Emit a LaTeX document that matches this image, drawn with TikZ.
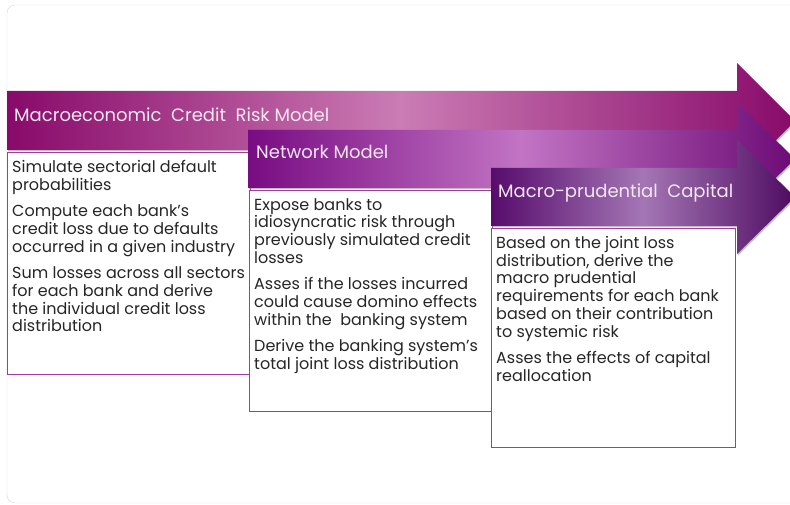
\documentclass[tikz,border=0pt]{standalone}
\usepackage{fontspec}
\setmainfont{Poppins}
\newfontfamily\bodyfont{Poppins}
\usetikzlibrary{shadows}
\definecolor{frame}{HTML}{D6D6D6}
\definecolor{boxline}{HTML}{A03C9C}
\definecolor{bodytext}{HTML}{262626}
\definecolor{titletext}{HTML}{F3E8F1}
\definecolor{plumA}{HTML}{880A6A}
\definecolor{plumB}{HTML}{CB7CB4}
\definecolor{orchidA}{HTML}{780C82}
\definecolor{orchidB}{HTML}{C274C4}
\definecolor{violetA}{HTML}{560C6C}
\definecolor{violetB}{HTML}{A476B4}
\tikzset{
  band/.style={drop shadow={shadow xshift=1pt,shadow yshift=-1.5pt,opacity=0.5}},
  title/.style={anchor=base west,inner sep=0pt,text=titletext,font=\fontsize{18}{18}\selectfont},
  stepbox/.style={draw=boxline,line width=0.9pt,fill=white,anchor=north west,inner sep=0pt},
  steptext/.style={anchor=north west,align=left,inner sep=0pt,text=bodytext,
    font=\bodyfont\fontsize{16}{17.8}\selectfont}
}

\begin{document}
\begin{tikzpicture}[x=1pt,y=-1pt]
    \useasboundingbox (0,0) rectangle (790,505);
    \clip (0,0) rectangle (790,505);
    \draw[frame,rounded corners=8pt] (7,5) rectangle (830,503);

    \path[band,left color=plumA,right color=plumA,middle color=plumB]
        (7,91) -- (737,91) -- (737,63) -- (795,121) -- (737,179) -- (737,150) -- (7,150) -- cycle;
    \node[title] at (14,122) (t1) {Macroeconomic~ Credit~ Risk Model};
    \node[stepbox,minimum width=243,minimum height=222] at (7,152) (b1) {};
    \node[steptext] at ([xshift=5,yshift=-8]b1.north west) (s1) {Simulate sectorial default\\ probabilities\\[8.5pt]
        Compute each bank’s\\ credit loss due to defaults\\ occurred in a given industry\\[8.5pt]
        Sum losses across all sectors\\ for each bank and derive\\ the individual credit loss\\ distribution};

    \path[band,left color=orchidA,right color=orchidA!90!black,middle color=orchidB]
        (248,130) -- (737,130) -- (737,102) -- (795,159) -- (737,216) -- (737,188) -- (248,188) -- cycle;
    \node[title] at (256,159) (t2) {Network Model};
    \node[stepbox,minimum width=243,minimum height=221] at (249,190) (b2) {};
    \node[steptext] at ([xshift=5,yshift=-8]b2.north west) (s2) {Expose banks to\\ idiosyncratic risk through\\ previously simulated credit\\ losses\\[8.5pt]
        Asses if the losses incurred\\ could cause domino effects\\ within the~ banking system\\[8.5pt]
        Derive the banking system’s\\ total joint loss distribution};

    \path[band,left color=violetA,right color=violetA!90!black,middle color=violetB]
        (491,168) -- (737,168) -- (737,140) -- (795,197) -- (737,254) -- (737,226) -- (491,226) -- cycle;
    \node[title] at (498,198) (t3) {Macro-prudential~ Capital};
    \node[stepbox,minimum width=244,minimum height=219] at (491,228) (b3) {};
    \node[steptext] at ([xshift=5,yshift=-8]b3.north west) (s3) {Based on the joint loss\\ distribution, derive the\\ macro prudential\\ requirements for each bank\\ based on their contribution\\ to systemic risk\\[8.5pt]
        Asses the effects of capital\\ reallocation};
\end{tikzpicture}
\end{document}
